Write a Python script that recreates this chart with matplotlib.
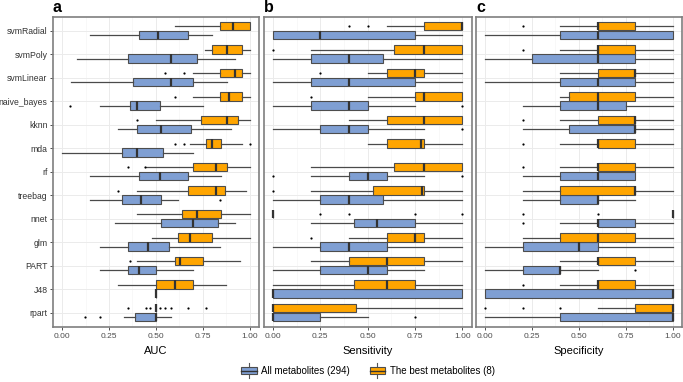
import matplotlib
matplotlib.use('Agg')
import matplotlib.pyplot as plt
from matplotlib.legend_handler import HandlerBase
from matplotlib.patches import Rectangle, Patch
from matplotlib.lines import Line2D

plt.rcParams['font.family'] = ['Liberation Sans', 'DejaVu Sans']

# 模型顺序(自上而下)
models = ['svmRadial', 'svmPoly', 'svmLinear', 'naive_bayes', 'kknn', 'mda', 'rf',
          'treebag', 'nnet', 'glm', 'PART', 'J48', 'rpart']
metric_names = ['AUC', 'Sensitivity', 'Specificity']
panel_tags = ['a', 'b', 'c']
group_labels = ['All metabolites (294)', 'The best metabolites (8)']
group_colors = ['#7f9fd3', '#ffa500']
xticks = [0.0, 0.25, 0.5, 0.75, 1.0]
xtick_labels = ['0.00', '0.25', '0.50', '0.75', '1.00']

# 每行: [下须, Q1, 中位数, Q3, 上须]; None = 无数据
auc_all = [
    [0.15, 0.41, 0.51, 0.67, 0.80],
    [0.08, 0.35, 0.58, 0.72, 0.92],
    [0.05, 0.38, 0.58, 0.70, 0.88],
    [0.20, 0.36, 0.40, 0.52, 0.75],
    [0.30, 0.40, 0.53, 0.69, 0.90],
    [0.00, 0.32, 0.40, 0.54, 0.70],
    [0.15, 0.41, 0.52, 0.67, 0.85],
    [0.15, 0.32, 0.42, 0.53, 0.62],
    [0.28, 0.53, 0.70, 0.83, 0.92],
    [0.20, 0.35, 0.46, 0.57, 0.84],
    [0.20, 0.35, 0.41, 0.50, 0.70],
    [0.50, 0.50, 0.50, 0.50, 0.50],
    [0.33, 0.39, 0.50, 0.50, 0.58],
]
auc_all_out = [[], [], [], [0.04], [], [], [], [0.84], [], [], [], [], [0.12, 0.20]]

auc_best = [
    [0.60, 0.84, 0.91, 1.00, 1.00],
    [0.76, 0.80, 0.88, 0.96, 1.00],
    [0.70, 0.84, 0.92, 0.96, 1.00],
    [0.70, 0.84, 0.89, 0.96, 1.00],
    [0.50, 0.74, 0.88, 0.94, 1.00],
    [0.68, 0.77, 0.80, 0.85, 0.96],
    [0.45, 0.70, 0.82, 0.88, 1.00],
    [0.40, 0.67, 0.82, 0.87, 0.98],
    [0.40, 0.64, 0.72, 0.85, 1.00],
    [0.48, 0.62, 0.68, 0.80, 1.00],
    [0.40, 0.60, 0.63, 0.75, 0.95],
    [0.30, 0.50, 0.60, 0.70, 0.875],
    [0.50, 0.50, 0.50, 0.50, 0.50],
]
auc_best_out = [[], [], [0.55, 0.65], [0.60], [0.40], [0.60, 0.65, 1.00], [0.35, 0.44],
                [0.30], [], [], [0.36], [],
                [0.35, 0.445, 0.47, 0.52, 0.55, 0.58, 0.67, 0.77]]

sens_all = [
    [0.00, 0.00, 0.25, 0.75, 1.00],
    [0.00, 0.20, 0.40, 0.58, 1.00],
    [0.00, 0.20, 0.40, 0.75, 1.00],
    [0.00, 0.20, 0.40, 0.50, 0.75],
    [0.00, 0.25, 0.40, 0.50, 0.80],
    None,
    [0.20, 0.40, 0.50, 0.60, 0.80],
    [0.00, 0.25, 0.40, 0.58, 1.00],
    [0.20, 0.43, 0.55, 0.75, 1.00],
    [0.00, 0.25, 0.40, 0.60, 1.00],
    [0.00, 0.25, 0.50, 0.60, 0.80],
    [0.00, 0.00, 0.00, 1.00, 1.00],
    [0.00, 0.00, 0.00, 0.25, 0.50],
]
sens_all_out = [[], [], [], [1.0], [1.0], [], [0.0, 1.0], [], [], [], [], [], [0.75]]

sens_best = [
    [0.60, 0.80, 1.00, 1.00, 1.00],
    [0.20, 0.64, 0.80, 1.00, 1.00],
    [0.50, 0.60, 0.75, 0.80, 1.00],
    [0.50, 0.75, 0.80, 1.00, 1.00],
    [0.40, 0.60, 0.80, 1.00, 1.00],
    [0.50, 0.60, 0.78, 0.80, 1.00],
    [0.20, 0.64, 0.80, 1.00, 1.00],
    [0.20, 0.53, 0.785, 0.80, 1.00],
    [0.00, 0.00, 0.00, 0.00, 0.00],
    [0.40, 0.60, 0.75, 0.80, 1.00],
    [0.20, 0.40, 0.60, 0.80, 1.00],
    [0.00, 0.43, 0.60, 0.75, 1.00],
    [0.00, 0.00, 0.00, 0.44, 1.00],
]
sens_best_out = [[0.40, 0.50], [0.0], [0.25], [0.20], [], [], [], [0.0],
                 [0.25, 0.40, 0.75, 1.0], [0.20], [], [], []]

spec_all = [
    [0.00, 0.40, 0.60, 1.00, 1.00],
    [0.00, 0.25, 0.60, 0.80, 1.00],
    [0.00, 0.40, 0.60, 0.80, 1.00],
    [0.20, 0.40, 0.60, 0.75, 1.00],
    [0.20, 0.45, 0.80, 0.80, 1.00],
    None,
    [0.20, 0.40, 0.60, 0.80, 0.80],
    [0.20, 0.40, 0.60, 0.60, 0.80],
    [0.40, 0.60, 0.60, 0.80, 1.00],
    [0.00, 0.20, 0.50, 0.60, 1.00],
    [0.00, 0.20, 0.40, 0.40, 0.60],
    [0.00, 0.00, 1.00, 1.00, 1.00],
    [0.00, 0.40, 1.00, 1.00, 1.00],
]
spec_all_out = [[], [], [], [], [], [], [], [], [0.20], [], [0.80], [], []]

spec_best = [
    [0.40, 0.60, 0.60, 0.80, 1.00],
    [0.40, 0.60, 0.60, 0.80, 1.00],
    [0.40, 0.60, 0.80, 0.80, 1.00],
    [0.40, 0.45, 0.60, 0.80, 1.00],
    [0.40, 0.60, 0.80, 0.80, 1.00],
    [0.40, 0.60, 0.60, 0.80, 1.00],
    [0.40, 0.60, 0.60, 0.80, 1.00],
    [0.20, 0.40, 0.80, 0.80, 1.00],
    [1.00, 1.00, 1.00, 1.00, 1.00],
    [0.20, 0.40, 0.60, 0.80, 1.00],
    [0.40, 0.60, 0.60, 0.80, 1.00],
    [0.40, 0.60, 0.60, 0.80, 1.00],
    [0.60, 0.80, 1.00, 1.00, 1.00],
]
spec_best_out = [[0.20], [0.20], [], [], [0.20], [0.20], [0.20], [], [0.20, 0.60],
                 [], [], [0.20], [0.0, 0.20, 0.40]]

panel_data = [
    (auc_all, auc_all_out, auc_best, auc_best_out),
    (sens_all, sens_all_out, sens_best, sens_best_out),
    (spec_all, spec_all_out, spec_best, spec_best_out),
]

# 面板位置(像素测量换算)
W, H = 683, 382
panel_px = [(52.7, 259.0), (263.5, 471.7), (475.7, 682.0)]
top_px, bot_px = 16.5, 326.7
tag_px = [(57, 8), (269, 8), (481, 8)]

EDGE = '#4d4d4d'
n = len(models)
ypos = [n - i for i in range(n)]
off = 0.1875
bw = 0.36


def draw_group(ax, rows, outs, shift, color):
    stats, pos = [], []
    for y, r, o in zip(ypos, rows, outs):
        if r is None:
            continue
        stats.append(dict(whislo=r[0], q1=r[1], med=r[2], q3=r[3], whishi=r[4], fliers=o))
        pos.append(y + shift)
    ax.bxp(stats, positions=pos, widths=bw, orientation='horizontal', patch_artist=True,
           showcaps=False, manage_ticks=False,
           boxprops=dict(facecolor=color, edgecolor=EDGE, linewidth=0.8),
           medianprops=dict(color='#333333', linewidth=1.6),
           whiskerprops=dict(color='#4a4a4a', linewidth=0.9),
           flierprops=dict(marker='o', markersize=1.6, markerfacecolor='black',
                           markeredgecolor='none'))


fig = plt.figure(figsize=(W / 100, H / 100), dpi=100)
for k, (x0, x1) in enumerate(panel_px):
    ax = fig.add_axes([x0 / W, (H - bot_px) / H, (x1 - x0) / W, (bot_px - top_px) / H])
    all_rows, all_out, best_rows, best_out = panel_data[k]
    draw_group(ax, all_rows, all_out, -off, group_colors[0])
    draw_group(ax, best_rows, best_out, off, group_colors[1])

    ax.set_xlim(-0.05, 1.05)
    ax.set_ylim(0.4, n + 0.6)
    ax.set_xticks(xticks)
    ax.set_xticklabels(xtick_labels)
    ax.set_xticks([0.125, 0.375, 0.625, 0.875], minor=True)
    ax.set_yticks(ypos)
    ax.set_axisbelow(True)
    ax.grid(which='major', color='#ebebeb', linewidth=0.7)
    ax.grid(which='minor', axis='x', color='#f4f4f4', linewidth=0.4)
    ax.tick_params(axis='x', which='major', labelsize=6, colors='#333333', labelcolor='#4d4d4d',
                   length=2.5, width=0.6, pad=2)
    ax.tick_params(axis='x', which='minor', length=0)
    if k == 0:
        ax.set_yticklabels(models)
        ax.tick_params(axis='y', labelsize=6.2, labelcolor='#333333', colors='#333333',
                       length=2.2, width=0.6, pad=1.5)
    else:
        ax.set_yticklabels([])
        ax.tick_params(axis='y', length=0)
    for s in ax.spines.values():
        s.set_color('#7f7f7f')
        s.set_linewidth(1.2)
    ax.set_xlabel(metric_names[k], fontsize=8, labelpad=4)
    fig.text(tag_px[k][0] / W, 1 - tag_px[k][1] / H, panel_tags[k], fontsize=11.5,
             fontweight='bold', ha='center', va='center')


class BoxKey(HandlerBase):
    def create_artists(self, legend, orig_handle, xdescent, ydescent, width, height,
                       fontsize, trans):
        fc = orig_handle.get_facecolor()
        x0, y0 = -xdescent, -ydescent
        rect = Rectangle((x0, y0 + 0.1 * height), width, 0.8 * height, facecolor=fc,
                         edgecolor=EDGE, linewidth=0.8, transform=trans)
        med = Line2D([x0, x0 + width], [y0 + 0.5 * height] * 2, color='#333333',
                     linewidth=1.0, transform=trans)
        wl = Line2D([x0 + width / 2] * 2, [y0 - 0.3 * height, y0 + 0.1 * height],
                    color='#555555', linewidth=0.8, transform=trans)
        wh = Line2D([x0 + width / 2] * 2, [y0 + 0.9 * height, y0 + 1.3 * height],
                    color='#555555', linewidth=0.8, transform=trans)
        return [wl, wh, rect, med]


handles = [Patch(facecolor=c) for c in group_colors]
fig.legend(handles, group_labels, handler_map={Patch: BoxKey()}, loc='center',
           bbox_to_anchor=(368 / W, 1 - 371 / H), ncol=2, frameon=False, fontsize=7,
           handlelength=1.6, handleheight=1.1, handletextpad=0.5, columnspacing=2.0)

fig.savefig('out.png', dpi=100)
